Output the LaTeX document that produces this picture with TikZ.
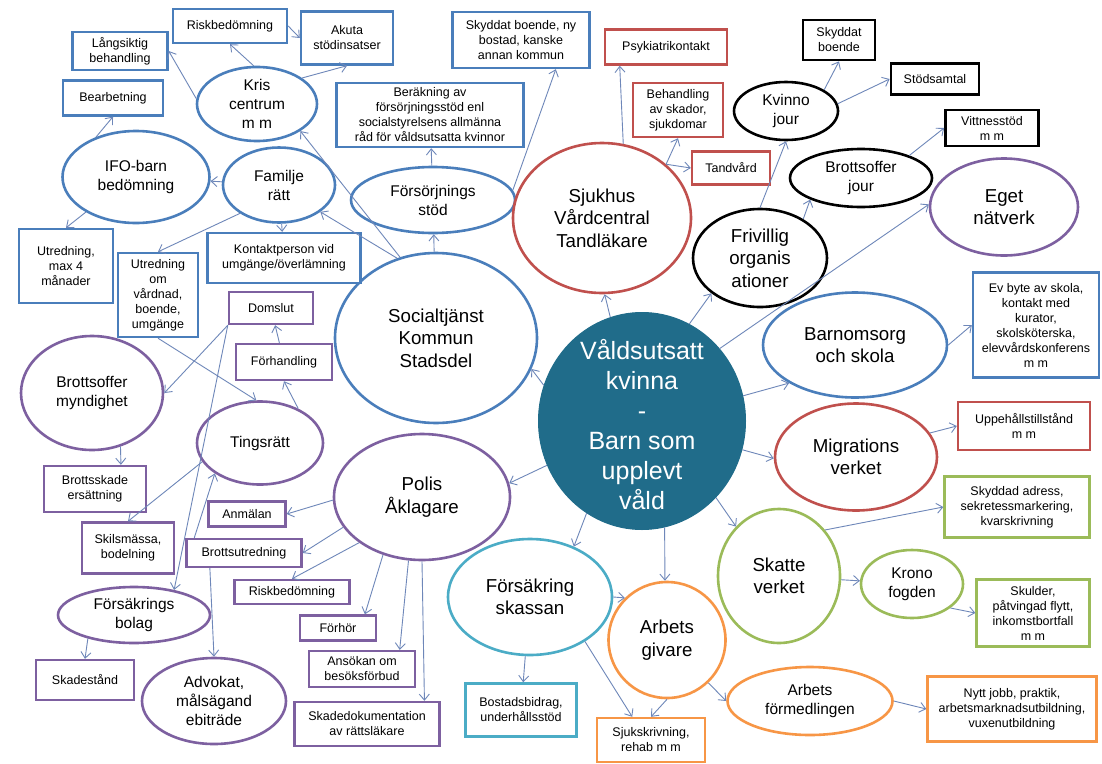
\documentclass[tikz,border=0pt]{standalone}
\usepackage{fontspec}
\setmainfont{Liberation Sans}
\usetikzlibrary{shapes.geometric,arrows.meta}

\definecolor{kblue}{RGB}{74,126,187}
\definecolor{kred}{RGB}{192,80,77}
\definecolor{kpurple}{RGB}{125,96,160}
\definecolor{kteal}{RGB}{75,172,198}
\definecolor{korange}{RGB}{247,150,70}
\definecolor{kgreen}{RGB}{155,187,89}
\definecolor{kcentral}{RGB}{32,108,138}
\definecolor{arrowc}{RGB}{110,135,185}

\begin{document}
\begin{tikzpicture}[x=1pt,y=-1pt,
        sz/.style 2 args={minimum width=#1pt,minimum height=#2pt},
        ell/.style={ellipse,draw,line width=2.6pt,inner sep=0pt,align=center,fill=white,
            font=\fontsize{15.5}{19}\selectfont},
        big/.style={font=\fontsize{18.7}{22.5}\selectfont},
        box/.style={rectangle,draw,line width=2.4pt,inner sep=2pt,align=center,fill=white,
            font=\fontsize{12.5}{15}\selectfont},
        hub/.style={ellipse,fill=kcentral,draw=kcentral,line width=1pt,inner sep=0pt},
        hubtxt/.style={align=center,text=white,inner sep=0pt,font=\fontsize{25}{30}\selectfont},
        link/.style={draw=arrowc,line width=.9pt,-{Straight Barb[length=6pt,width=10pt]}}]

    \useasboundingbox (0,0) rectangle (1102,763);
    \fill[white] (0,0) rectangle (1102,763);

    % centre
    \node[hub] [sz={207}{217}] (cen) at (642,421) {};
    \node[hubtxt] (centxt) at (642,425) {Våldsutsatt\\kvinna\\-\\Barn som\\upplevt\\våld};

    % socialtjanst
    \node[ell,big,draw=kblue] [sz={202}{170}] (soc) at (436,338) {Socialtjänst\\Kommun\\Stadsdel};
    \node[ell,draw=kblue] [sz={164}{66}] (fors) at (433,200) {Försörjnings\\stöd};
    \node[ell,draw=kblue] [sz={120}{74}] (kris) at (257,104) {Kris\\centrum\\m m};
    \node[ell,draw=kblue] [sz={112}{75}] (fam) at (279,185) {Familje\\rätt};
    \node[ell,draw=kblue] [sz={147}{92}] (ifo) at (136,177) {IFO-barn\\bedömning};
    \node[box,draw=kblue] [sz={114}{34}] (risk1) at (230,26) {Riskbedömning};
    \node[box,draw=kblue] [sz={92}{53}] (akuta) at (347,38) {Akuta\\stödinsatser};
    \node[box,draw=kblue] [sz={95}{38}] (lang) at (120,51) {Långsiktig\\behandling};
    \node[box,draw=kblue] [sz={100}{35}] (bear) at (113,98) {Bearbetning};
    \node[box,draw=kblue] [sz={94}{74}] (utr4) at (66,266) {Utredning,\\max 4\\månader};
    \node[box,draw=kblue] [sz={80}{84}] (utrv) at (158,295) {Utredning\\om\\vårdnad,\\boende,\\umgänge};
    \node[box,draw=kblue] [sz={153}{50}] (kont) at (284,258) {Kontaktperson vid\\umgänge/överlämning};
    \node[box,draw=kblue] [sz={187}{64}] (ber) at (430,115) {Beräkning av\\försörjningsstöd enl\\socialstyrelsens allmänna\\råd för våldsutsatta kvinnor};
    \node[box,draw=kblue] [sz={137}{56}] (skb) at (521,40) {Skyddat boende, ny\\bostad, kanske\\annan kommun};

    % sjukvard
    \node[ell,big,draw=kred] [sz={178}{150}] (sjuk) at (602,218) {Sjukhus\\Vårdcentral\\Tandläkare};
    \node[box,draw=kred] [sz={122}{35}] (psyk) at (666,47) {Psykiatrikontakt};
    \node[box,draw=kred] [sz={90}{54}] (beh) at (678,110) {Behandling\\av skador,\\sjukdomar};
    \node[box,draw=kred] [sz={78}{33}] (tand) at (731,168) {Tandvård};

    % frivilliga
    \node[ell,big,draw=black] [sz={134}{98}] (friv) at (760,258) {Frivillig\\organis\\ationer};
    \node[ell,draw=black] [sz={104}{58}] (kvj) at (786,111) {Kvinno\\jour};
    \node[ell,draw=black] [sz={142}{58}] (bjour) at (861,178) {Brottsoffer\\jour};
    \node[box,draw=black,line width=2.8pt] [sz={72}{40}] (skb2) at (839,40) {Skyddat\\boende};
    \node[box,draw=black,line width=2.8pt] [sz={88}{31}] (stod) at (935,79) {Stödsamtal};
    \node[box,draw=black,line width=2.8pt] [sz={93}{36}] (vitt) at (992,128) {Vittnesstöd\\m m};
    \node[ell,big,draw=kpurple] [sz={148}{97}] (eget) at (1004,207) {Eget\\nätverk};

    % skola, migration
    \node[ell,big,draw=kblue] [sz={184}{105}] (barn) at (855,345) {Barnomsorg\\och skola};
    \node[box,draw=kblue] [sz={126}{105}] (evb) at (1036,325) {Ev byte av skola,\\kontakt med\\kurator,\\skolsköterska,\\elevvårdskonferens\\m m};
    \node[ell,big,draw=kred] [sz={162}{107}] (migr) at (856,457) {Migrations\\verket};
    \node[box,draw=kred] [sz={132}{48}] (upp) at (1024,426) {Uppehållstillstånd\\m m};

    % skatteverket
    \node[ell,big,draw=kgreen] [sz={122}{134}] (skatte) at (779,576) {Skatte\\verket};
    \node[ell,draw=kgreen] [sz={102}{68}] (krono) at (912,584) {Krono\\fogden};
    \node[box,draw=kgreen] [sz={145}{61}] (skyd) at (1017,507) {Skyddad adress,\\sekretessmarkering,\\kvarskrivning};
    \node[box,draw=kgreen] [sz={113}{67}] (skul) at (1033,613) {Skulder,\\påtvingad flytt,\\inkomstbortfall\\m m};

    % arbete, forsakring
    \node[ell,big,draw=kteal] [sz={164}{116}] (fk) at (530,597) {Försäkring\\skassan};
    \node[box,draw=kteal] [sz={111}{53}] (bost) at (521,710) {Bostadsbidrag,\\underhållsstöd};
    \node[ell,big,draw=korange] [sz={117}{116}] (arbg) at (667,640) {Arbets\\givare};
    \node[box,draw=korange] [sz={108}{44}] (sjuks) at (651,740) {Sjukskrivning,\\rehab m m};
    \node[ell,draw=korange] [sz={165}{68}] (arbf) at (810,701) {Arbets\\förmedlingen};
    \node[box,draw=korange] [sz={169}{65}] (nytt) at (1012,709) {Nytt jobb, praktik,\\arbetsmarknadsutbildning,\\vuxenutbildning};

    % rattsvasende
    \node[ell,big,draw=kpurple] [sz={176}{126}] (polis) at (422,497) {Polis\\Åklagare};
    \node[ell,draw=kpurple] [sz={126}{83}] (ting) at (260,443) {Tingsrätt};
    \node[ell,draw=kpurple] [sz={142}{114}] (bmyn) at (92,393) {Brottsoffer\\myndighet};
    \node[ell,draw=kpurple] [sz={152}{56}] (fbol) at (134,615) {Försäkrings\\bolag};
    \node[ell,draw=kpurple] [sz={144}{86}] (adv) at (214,701) {Advokat,\\målsägand\\ebiträde};
    \node[box,draw=kpurple] [sz={84}{32}] (doms) at (271,308) {Domslut};
    \node[box,draw=kpurple] [sz={96}{36}] (forh) at (284,362) {Förhandling};
    \node[box,draw=kpurple] [sz={102}{46}] (bsk) at (95,489) {Brottsskade\\ersättning};
    \node[box,draw=kpurple] [sz={92}{51}] (skil) at (128,548) {Skilsmässa,\\bodelning};
    \node[box,draw=kpurple] [sz={77}{25}] (anm) at (247,514) {Anmälan};
    \node[box,draw=kpurple] [sz={115}{28}] (butr) at (244,553) {Brottsutredning};
    \node[box,draw=kpurple] [sz={115}{24}] (risk2) at (292,592) {Riskbedömning};
    \node[box,draw=kpurple] [sz={76}{25}] (forhor) at (338,628) {Förhör};
    \node[box,draw=kpurple] [sz={106}{36}] (ansok) at (362,669) {Ansökan om\\besöksförbud};
    \node[box,draw=kpurple] [sz={145}{44}] (skd) at (367,724) {Skadedokumentation\\av rättsläkare};
    \node[box,draw=kpurple] [sz={98}{40}] (skad) at (85,680) {Skadestånd};

    \path[every edge/.style={link}]
    (cen.160) edge (soc.-18)
    (cen.107) edge (sjuk.-88)
    (cen.64) edge (friv.216)
    (cen.43) edge (eget.178)
    (cen.14) edge (barn.210)
    (cen.-16) edge (migr.181)
    (cen.-46) edge (skatte.131)
    (cen.-78) edge (arbg.92)
    (cen.239) edge (fk.49)
    (cen.205) edge (polis.9)
    (soc) edge (fors)
    (soc.114) edge (kris.-32)
    (soc.116) edge (fam.-33)
    (fam) edge (kont)
    (fam.216) edge (utrv.north)
    (fam) edge (ifo)
    (ifo.135) edge (bear.south)
    (ifo.215) edge (utr4.north)
    (kris.175) edge (lang.east)
    (kris.95) edge (risk1.south)
    (kris.30) edge (akuta.south)
    (risk1.east) edge (akuta.west)
    (fors) edge (ber)
    (fors.7) edge (skb.-40)
    (sjuk.74) edge (psyk.202)
    (sjuk.40) edge (beh.south)
    (sjuk.40) edge (tand.west)
    (friv.north) edge (kvj.south)
    (friv.42) edge (bjour.203)
    (kvj.29) edge (skb2.south)
    (kvj.8) edge (stod.west)
    (bjour.25) edge (vitt.west)
    (barn.east) edge (evb.west)
    (migr.18) edge (upp.west)
    (skatte.45) edge (skyd.west)
    (skatte) edge (krono)
    (krono.-32) edge (skul.west)
    (arbg.south) edge (sjuks.north)
    (arbg.-46) edge (arbf.west)
    (arbf.east) edge (nytt.west)
    (fk.east) edge (arbg.135)
    (fk) edge (bost)
    (fk.-39) edge (sjuks.129)
    (polis.182) edge (anm.east)
    (polis.201) edge (butr.east)
    (polis.216) edge (risk2.north)
    (polis.236) edge (forhor.27)
    (polis.258) edge (ansok.27)
    (polis.south) edge (skd.22)
    (butr.163) edge (ting.214)
    (butr.204) edge (adv.north)
    (ting.42) edge (forh.south)
    (forh) edge (doms)
    (doms.south west) edge (bmyn.east)
    (doms.south west) edge (fbol.32)
    (utrv.south) edge (ting.95)
    (bmyn.-62) edge (bsk.43)
    (ting.198) edge (skil.north)
    (fbol.207) edge (skad.north)
    ;
\end{tikzpicture}
\end{document}
